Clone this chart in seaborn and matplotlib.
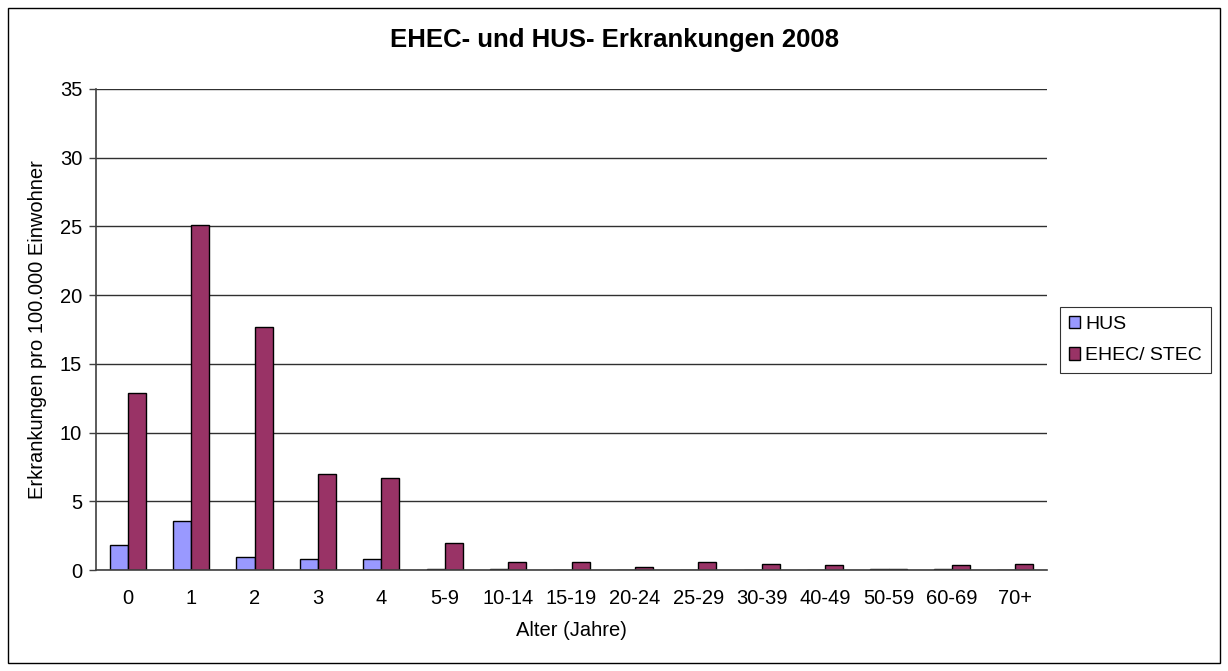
import matplotlib
matplotlib.use("Agg")
import matplotlib.pyplot as plt
import seaborn as sns
import pandas as pd
import numpy as np
from matplotlib.patches import Patch, Rectangle

categories = ["0", "1", "2", "3", "4", "5-9", "10-14", "15-19", "20-24", "25-29",
              "30-39", "40-49", "50-59", "60-69", "70+"]
hus = [1.8, 3.6, 0.95, 0.8, 0.8, 0.1, 0.1, 0.0, 0.0, 0.0, 0.0, 0.0, 0.05, 0.1, 0.0]
ehec = [12.9, 25.1, 17.7, 7.0, 6.7, 1.95, 0.6, 0.6, 0.2, 0.6, 0.45, 0.35, 0.1, 0.35, 0.45]
series_names = ["HUS", "EHEC/ STEC"]
colors = ["#9999FF", "#993366"]

df = pd.DataFrame({
    "Alter": categories * 2,
    "Wert": hus + ehec,
    "Serie": [series_names[0]] * len(categories) + [series_names[1]] * len(categories),
})

sns.set_style("white")
plt.rcParams['font.family'] = ['Liberation Sans', 'DejaVu Sans']
plt.rcParams['text.color'] = 'black'
plt.rcParams['axes.labelcolor'] = 'black'
plt.rcParams['xtick.color'] = 'black'
plt.rcParams['ytick.color'] = 'black'

fs = 14.5

fig = plt.figure(figsize=(12.28, 6.71), dpi=100)
ax = fig.add_axes([96/1228, 1-570/671, (1047-96)/1228, (570-89)/671])

sns.barplot(data=df, x="Alter", y="Wert", hue="Serie", order=categories,
            hue_order=series_names, palette=colors, width=0.57, saturation=1,
            edgecolor="black", linewidth=1.0, ax=ax, legend=False, errorbar=None)

ax.set_ylim(0, 35)
ax.set_xlim(-0.5, len(categories) - 0.5)
ax.set_yticks(np.arange(0, 36, 5))
ax.yaxis.grid(True, color="#303030", linewidth=1.0)
ax.set_axisbelow(True)
for s in ["top", "right"]:
    ax.spines[s].set_visible(False)
ax.spines["left"].set_color("#404040")
ax.spines["bottom"].set_color("#404040")
ax.spines["left"].set_linewidth(1.2)
ax.spines["bottom"].set_linewidth(1.2)

ax.set_xticks(np.arange(len(categories)))
ax.set_xticklabels(categories, fontsize=fs)
ax.set_xticks(np.arange(-0.5, len(categories), 1), minor=True)
ax.tick_params(axis="x", which="major", length=0, pad=14)
ax.tick_params(axis="x", which="minor", length=6, color="#404040", width=1)
ax.tick_params(axis="y", which="major", length=5, color="#404040", width=1,
               labelsize=fs, left=True, direction="out", pad=5)

ax.set_xlabel("Alter (Jahre)", fontsize=fs, labelpad=9)
ax.set_ylabel("Erkrankungen pro 100.000 Einwohner", fontsize=fs, labelpad=9)

fig.text(614/1228, 1-40/671, "EHEC- und HUS- Erkrankungen 2008", ha="center", va="center",
         fontsize=18.5, fontweight="bold")

handles = [Patch(facecolor=c, edgecolor="black", linewidth=1) for c in colors]
leg = fig.legend(handles, series_names, loc="upper left",
                 bbox_to_anchor=(1060/1228, 1-307/671), fontsize=14, frameon=True,
                 fancybox=False, edgecolor="black", handlelength=0.6, handleheight=0.6,
                 handletextpad=0.25, borderpad=0.45, labelspacing=0.75, borderaxespad=0)
leg.get_frame().set_linewidth(0.8)

fig.patches.append(Rectangle((8/1228, 8/671), (1220-8)/1228, (663-8)/671,
                             transform=fig.transFigure, fill=False, edgecolor="black",
                             linewidth=1.0))

fig.savefig("out.png", dpi=100)
